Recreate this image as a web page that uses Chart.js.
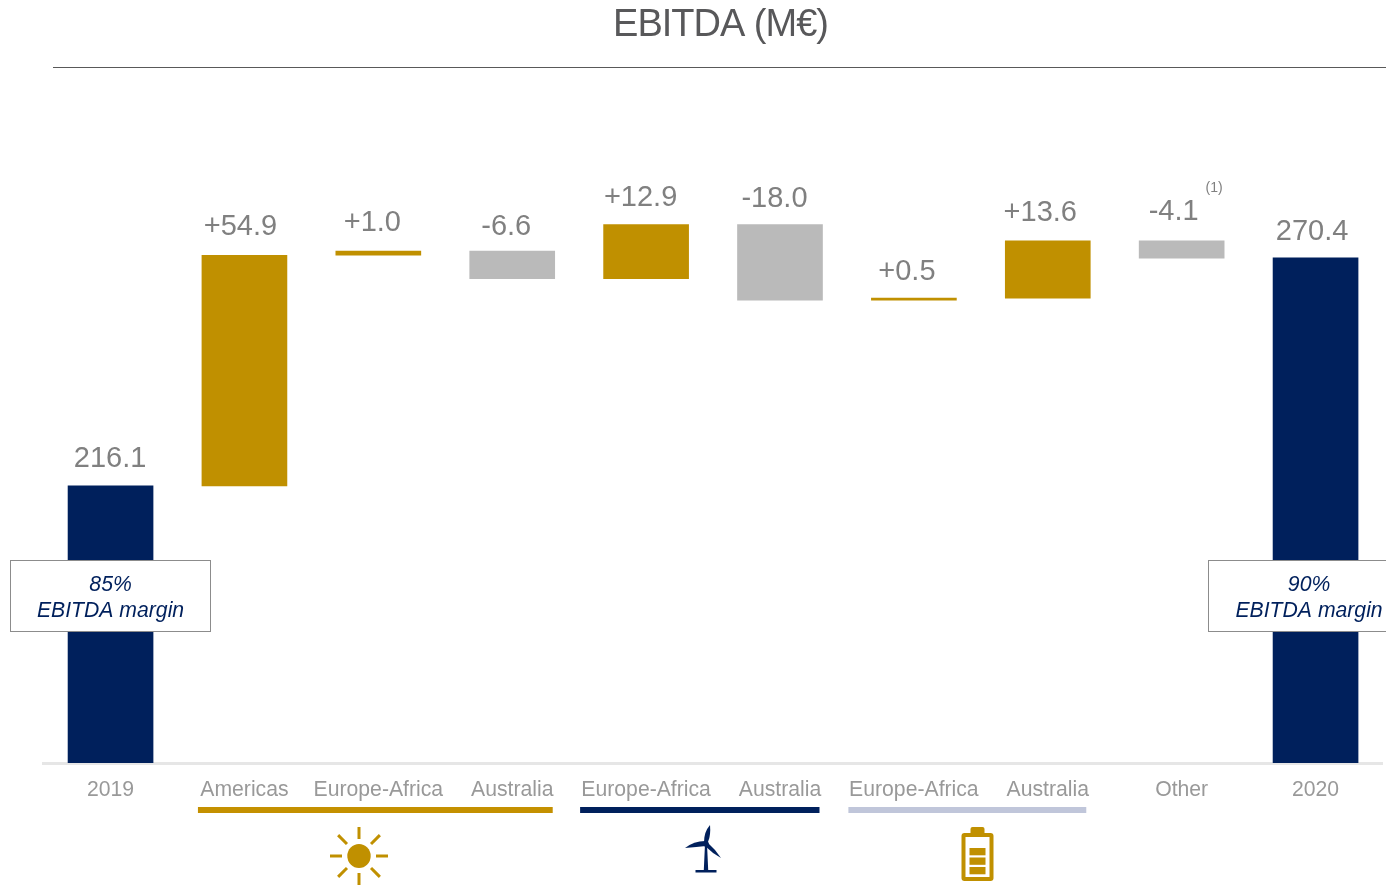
<!DOCTYPE html>
<html><head><meta charset="utf-8"><title>EBITDA (M€)</title>
<style>html,body{margin:0;padding:0;background:#fff;overflow:hidden}canvas{display:block}</style>
<script src="https://cdn.jsdelivr.net/npm/chart.js@4"></script></head>
<body><canvas id="c" width="1386" height="886"></canvas>
<script>
const categories = ["2019","Americas","Europe-Africa","Australia","Europe-Africa","Australia","Europe-Africa","Australia","Other","2020"];
const barFrom = [150.1,216.1,271.0,272.0,265.4,278.3,260.3,260.8,274.4,150.1];
const barTo = [216.1,271.0,272.0,265.4,278.3,260.3,260.8,274.4,270.3,270.4];
const valueLabels = ["216.1","+54.9","+1.0","-6.6","+12.9","-18.0","+0.5","+13.6","-4.1","270.4"];
const kinds = ["total","up","up","down","up","down","up","up","down","total"];
const marginLabels = [{cat:0,pct:"85%"},{cat:9,pct:"90%"}];
const groups = [{from:1,to:3,colour:"#c49000",icon:"sun"},{from:4,to:5,colour:"#00205c",icon:"wind"},{from:6,to:7,colour:"#c0c6da",icon:"battery"}];

const NAVY="#00205c",GOLD="#c09000",GREY="#bababa",VAL="#808080";
const kindColour={total:NAVY,up:GOLD,down:GREY};
const labelShift=[-0.5,-4,-6,-6,-5.5,-5.5,-7,-7.5,-8,-3.5];
const labelGap=[27,28,28,24,27,26,26,28,29,26];
const groupInset=[[46.5,40.5],[66,39.5],[65.5,38.5]];

function sun(ctx,cx,cy){ctx.fillStyle=GOLD;ctx.strokeStyle=GOLD;ctx.lineWidth=3;
 ctx.beginPath();ctx.ellipse(cx,cy,11.7,12,0,0,Math.PI*2);ctx.fill();
 for(let i=0;i<8;i++){const a=i*Math.PI/4;const r1=17,r2=i%2?29.5:29;
  ctx.beginPath();ctx.moveTo(cx+Math.cos(a)*r1,cy+Math.sin(a)*r1);ctx.lineTo(cx+Math.cos(a)*r2,cy+Math.sin(a)*r2);ctx.stroke();}}
function wind(ctx,cx,cy){ctx.fillStyle=NAVY;
 ctx.beginPath();ctx.moveTo(cx-1,cy);ctx.lineTo(cx+1,cy);ctx.lineTo(cx+2.2,cy+26);ctx.lineTo(cx+10.5,cy+26);ctx.lineTo(cx+10.5,cy+28.5);ctx.lineTo(cx-10.5,cy+28.5);ctx.lineTo(cx-10.5,cy+26);ctx.lineTo(cx-2.2,cy+26);ctx.fill();
 ctx.beginPath();ctx.arc(cx,cy,2.8,0,Math.PI*2);ctx.fill();
 ctx.beginPath();ctx.moveTo(cx-2,cy-2);ctx.quadraticCurveTo(cx-2,cy-12,cx+4,cy-19);ctx.quadraticCurveTo(cx+5,cy-9,cx+2,cy-2);ctx.fill();
 ctx.beginPath();ctx.moveTo(cx-1,cy-3);ctx.quadraticCurveTo(cx-12,cy-3,cx-21,cy+4);ctx.quadraticCurveTo(cx-9,cy+3,cx,cy+2);ctx.fill();
 ctx.beginPath();ctx.moveTo(cx+2,cy-1);ctx.quadraticCurveTo(cx+10,cy+6,cx+15,cy+14);ctx.quadraticCurveTo(cx+6,cy+9,cx-1,cy+2);ctx.fill();}
function battery(ctx,cx,top){ctx.fillStyle=GOLD;
 ctx.beginPath();ctx.roundRect(cx-7,top,14,8,2);ctx.fill();
 ctx.beginPath();ctx.roundRect(cx-16,top+6,32,48,3);ctx.fill();
 ctx.fillStyle="#fff";ctx.fillRect(cx-12,top+10,24,40);
 ctx.fillStyle=GOLD;for(let i=0;i<3;i++)ctx.fillRect(cx-8,top+21+i*9.5,16,7.3);}

const overlay={id:"overlay",
 afterDatasetsDraw(chart){
  const ctx=chart.ctx,x=chart.scales.x,y=chart.scales.y;
  ctx.save();
  ctx.textAlign="center";ctx.textBaseline="middle";
  ctx.fillStyle="#58585a";ctx.font='38px "Liberation Sans"';ctx.letterSpacing="-1px";
  ctx.fillText("EBITDA (M€)",720.5,25.5);ctx.letterSpacing="0px";
  ctx.fillStyle="#595959";ctx.fillRect(53,67,1333,1);
  ctx.fillStyle=VAL;ctx.font='29px "Liberation Sans"';
  valueLabels.forEach((t,i)=>{
   const top=y.getPixelForValue(Math.max(barFrom[i],barTo[i]));
   ctx.fillText(t,x.getPixelForValue(i)+labelShift[i],top-labelGap[i]);});
  ctx.font='14px "Liberation Sans"';
  ctx.fillText("(1)",x.getPixelForValue(8)+32.5,188);
  marginLabels.forEach((m,k)=>{
   const cx=x.getPixelForValue(m.cat)+(k?-6.5:0);
   const l=Math.floor(cx-100.5),w=200;
   ctx.fillStyle="#fff";ctx.fillRect(l,560.5,w,71);
   ctx.strokeStyle="#8c8c8c";ctx.lineWidth=1;ctx.strokeRect(l+.5,560.5,w,71);
   ctx.fillStyle=NAVY;ctx.font='italic 21.2px "Liberation Sans"';
   ctx.fillText(m.pct,cx,585);ctx.fillText("EBITDA margin",cx,611);});
  groups.forEach((g,k)=>{
   const a=x.getPixelForValue(g.from)-groupInset[k][0],b=x.getPixelForValue(g.to)+groupInset[k][1];
   ctx.fillStyle=g.colour;ctx.fillRect(a,807,b-a,6);
   if(g.icon==="sun")sun(ctx,359,856);
   if(g.icon==="wind")wind(ctx,706,844);
   if(g.icon==="battery")battery(ctx,977.5,827);});
  ctx.restore();
 }};

new Chart(document.getElementById("c"),{
 type:"bar",
 data:{labels:categories,datasets:[{data:barFrom.map((v,i)=>[v,barTo[i]]),backgroundColor:kinds.map(k=>kindColour[k]),borderWidth:0,borderSkipped:false,barThickness:85}]},
 options:{responsive:false,animation:false,devicePixelRatio:1,
  layout:{padding:{left:43.6,right:3.5,top:99.4,bottom:0}},
  plugins:{legend:{display:false},tooltip:{enabled:false},title:{display:false}},
  scales:{
   y:{display:false,min:150.1,max:308.1},
   x:{grid:{display:false},border:{color:"#e6e6e6",width:3},
      ticks:{color:"#999999",font:{family:"Liberation Sans",size:21.2},padding:6,maxRotation:0,autoSkip:false},
      afterFit(s){s.height=123;}}
  }},
 plugins:[overlay]});
</script></body></html>
